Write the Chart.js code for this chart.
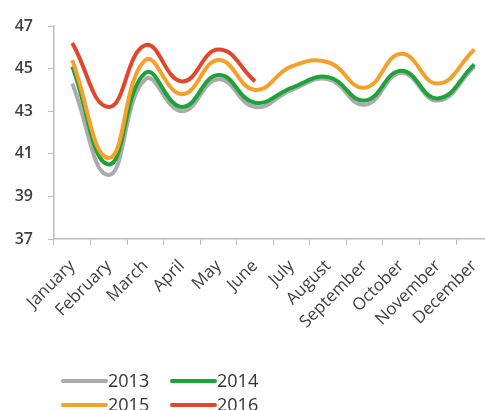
<!DOCTYPE html>
<html>
<head>
<meta charset="utf-8">
<script src="https://cdn.jsdelivr.net/npm/chart.js@4"></script>
<style>
  html, body { margin: 0; padding: 0; background: #fff; overflow: hidden; }
  #wrap { width: 485px; height: 410px; overflow: hidden; position: relative; }
  #box { width: 500px; height: 410px; position: absolute; left: 0; top: 0; }
</style>
</head>
<body>
<div id="wrap"><div id="box"><canvas id="c"></canvas></div></div>
<script>
const months = ['January', 'February', 'March', 'April', 'May', 'June',
  'July', 'August', 'September', 'October', 'November', 'December'];
const yearLabels = ['2013', '2014', '2015', '2016'];
const v2013 = [44.3, 40.0, 44.5, 43.0, 44.5, 43.2, 44.0, 44.5, 43.3, 44.8, 43.5, 45.1];
const v2014 = [45.1, 40.5, 44.8, 43.2, 44.7, 43.4, 44.1, 44.6, 43.5, 44.9, 43.6, 45.2];
const v2015 = [45.4, 40.8, 45.4, 43.8, 45.4, 44.0, 45.1, 45.3, 44.1, 45.7, 44.3, 45.9];
const v2016 = [46.2, 43.2, 46.1, 44.4, 45.9, 44.4];
const yTicks = [37, 39, 41, 43, 45, 47];
const colors = ['#ababab', '#1ea33b', '#f5a02a', '#e2472b'];

const series = [v2013, v2014, v2015, v2016];
const axisGray = '#bdbdbd';
const textGray = '#404040';

// Two-column legend under the plot: short thick line then the year
const legendPlugin = {
  id: 'yearLegend',
  afterDraw(chart) {
    const ctx = chart.ctx;
    const ds = chart.data.datasets;
    const cols = [63, 172];
    const rows = [381, 405];
    ctx.save();
    ctx.font = '18px "Open Sans", sans-serif';
    ctx.textBaseline = 'middle';
    ds.forEach((d, i) => {
      const x = cols[i % 2];
      const y = rows[Math.floor(i / 2)];
      ctx.strokeStyle = d.borderColor;
      ctx.lineWidth = 4;
      ctx.lineCap = 'round';
      ctx.beginPath();
      ctx.moveTo(x, y);
      ctx.lineTo(x + 43, y);
      ctx.stroke();
      ctx.fillStyle = '#333333';
      ctx.fillText(d.label, x + 45, y + 1);
    });
    ctx.restore();
  }
};

new Chart(document.getElementById('c'), {
  type: 'line',
  data: {
    labels: months,
    datasets: series.map((vals, i) => ({
      label: yearLabels[i],
      data: vals,
      borderColor: colors[i],
      backgroundColor: colors[i],
      borderWidth: 4,
      pointRadius: 0,
      tension: 0.45,
      fill: false,
      order: 3 - i
    }))
  },
  options: {
    responsive: true,
    maintainAspectRatio: false,
    animation: false,
    layout: { padding: { top: 26, right: 6, bottom: 71, left: 0 } },
    plugins: {
      legend: { display: false },
      tooltip: { enabled: false }
    },
    scales: {
      x: {
        offset: true,
        grid: {
          offset: true,
          drawOnChartArea: false,
          drawTicks: true,
          tickLength: 6,
          color: axisGray
        },
        border: { color: axisGray, width: 1.5 },
        ticks: {
          autoSkip: false,
          maxRotation: 45,
          minRotation: 45,
          padding: 11,
          color: textGray,
          font: { family: '"Open Sans", sans-serif', size: 17 }
        },
        afterFit(scale) { scale.height = 100; }
      },
      y: {
        min: 37,
        max: 47,
        afterBuildTicks(scale) { scale.ticks = yTicks.map(v => ({ value: v })); },
        grid: {
          drawOnChartArea: false,
          drawTicks: true,
          tickLength: 6,
          color: axisGray
        },
        border: { color: axisGray, width: 1.5 },
        ticks: {
          padding: 15,
          color: textGray,
          font: { family: '"Open Sans", sans-serif', size: 16, weight: '600' }
        },
        afterFit(scale) { scale.width = 54; }
      }
    }
  },
  plugins: [legendPlugin]
});
</script>
</body>
</html>
